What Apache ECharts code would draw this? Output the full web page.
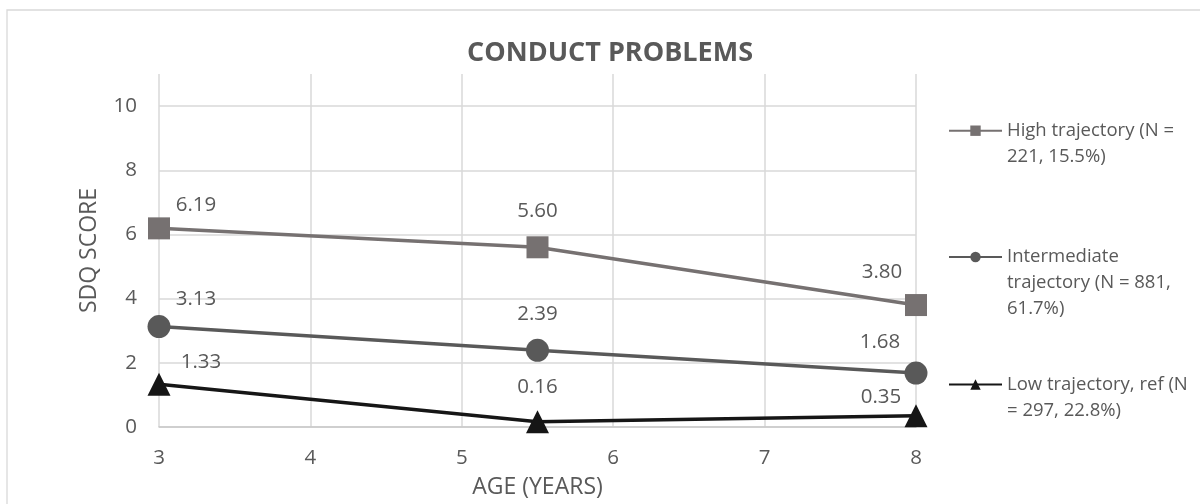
<!DOCTYPE html>
<html>
<head>
<meta charset="utf-8">
<title>Conduct problems</title>
<script src="https://cdn.jsdelivr.net/npm/echarts@6/dist/echarts.min.js"></script>
<style>
  html, body { margin: 0; padding: 0; background: #ffffff; }
  #chart { width: 1200px; height: 504px; }
</style>
</head>
<body>
<div id="chart"></div>
<script>
// Ages at which the SDQ was assessed
const ages = [3, 5.5, 8];

// Mean SDQ conduct-problem scores per trajectory group
const highScores = [6.19, 5.60, 3.80];
const intermediateScores = [3.13, 2.39, 1.68];
const lowScores = [1.33, 0.16, 0.35];

// Series names and axis ticks
const seriesNames = [
  'High trajectory (N = 221, 15.5%)',
  'Intermediate trajectory (N = 881, 61.7%)',
  'Low trajectory, ref (N = 297, 22.8%)'
];
const legendLines = [
  ['High trajectory (N =', '221, 15.5%)'],
  ['Intermediate', 'trajectory (N = 881,', '61.7%)'],
  ['Low trajectory, ref (N', '= 297, 22.8%)']
];
const yTickMax = 11;
const yTickStep = 2;

// Label placement (pixel offsets from each marker centre)
const labelOffsets = [
  [[37, -23], [0, -36], [-34, -33]],
  [[37, -27], [0, -36], [-36, -31]],
  [[42, -22], [0, -35], [-35, -19]]
];

const FONT = '"Open Sans", "Liberation Sans", sans-serif';
const TEXT = '#595959';
const colors = ['#767171', '#595959', '#161616'];
const symbols = ['rect', 'circle', 'triangle'];
const symbolSizes = [22, 23, 23];
const allScores = [highScores, intermediateScores, lowScores];

const series = allScores.map((vals, s) => ({
  name: seriesNames[s],
  type: 'line',
  symbol: symbols[s],
  symbolSize: symbolSizes[s],
  showAllSymbol: true,
  itemStyle: { color: colors[s] },
  lineStyle: { color: colors[s], width: 3.5 },
  z: 10 - s,
  data: vals.map((v, i) => ({
    value: [ages[i], v],
    label: { offset: labelOffsets[s][i] }
  })),
  label: {
    show: true,
    position: 'inside',
    align: 'center',
    verticalAlign: 'middle',
    color: TEXT,
    fontFamily: FONT,
    fontSize: 20.5,
    formatter: p => p.value[1].toFixed(2)
  }
}));

// one legend block per series so each sits at its own height
const legendTops = [91.7, 192, 345.5];
const legends = seriesNames.map((name, s) => {
  const lines = legendLines[s];
  // pad with empty lines so the icon lines up with the first text line
  const pad = new Array(lines.length - 1).fill('');
  return {
    data: [name],
    orient: 'vertical',
    left: 948,
    top: legendTops[s],
    padding: 0,
    itemWidth: 53,
    itemHeight: 13,
    selectedMode: false,
    formatter: () => pad.concat(lines).join('\n'),
    textStyle: {
      color: TEXT,
      fontFamily: FONT,
      fontSize: 18.5,
      lineHeight: 26
    }
  };
});

const chart = echarts.init(document.getElementById('chart'), null, { renderer: 'canvas' });
chart.setOption({
  animation: false,
  backgroundColor: '#ffffff',
  title: {
    text: 'CONDUCT PROBLEMS',
    left: 605,
    top: 35,
    textAlign: 'center',
    textStyle: { color: TEXT, fontFamily: FONT, fontSize: 27, fontWeight: 'bold' }
  },
  graphic: [{
    type: 'rect',
    shape: { x: 7, y: 10, width: 1400, height: 700 },
    style: { fill: 'none', stroke: '#d9d9d9', lineWidth: 1.3 },
    silent: true,
    z: -1
  }],
  legend: legends,
  grid: { left: 159, right: 284, top: 74, bottom: 77, containLabel: false },
  xAxis: {
    type: 'value',
    min: 3,
    max: 8,
    interval: 1,
    name: 'AGE (YEARS)',
    nameLocation: 'middle',
    nameGap: 49,
    nameTextStyle: { color: TEXT, fontFamily: FONT, fontSize: 23 },
    axisLine: { show: true, onZero: false, lineStyle: { color: '#c9c9c9', width: 1.5 } },
    axisTick: { show: false },
    axisLabel: { color: TEXT, fontFamily: FONT, fontSize: 20.5, margin: 21 },
    splitLine: { show: true, lineStyle: { color: '#d9d9d9', width: 1.5 } }
  },
  yAxis: {
    type: 'value',
    min: 0,
    max: yTickMax,
    interval: yTickStep,
    name: 'SDQ SCORE',
    nameLocation: 'middle',
    nameGap: 58,
    nameTextStyle: { color: TEXT, fontFamily: FONT, fontSize: 23 },
    axisLine: { show: false },
    axisTick: { show: false },
    axisLabel: { color: TEXT, fontFamily: FONT, fontSize: 20.5, margin: 22, showMaxLabel: false },
    splitLine: { show: true, showMaxLine: false, lineStyle: { color: '#d9d9d9', width: 1.5 } }
  },
  series: series
});
</script>
</body>
</html>
